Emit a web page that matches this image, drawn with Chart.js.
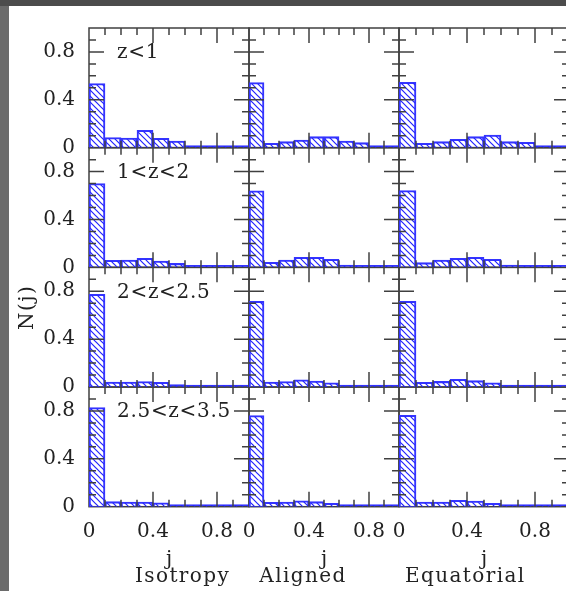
<!DOCTYPE html>
<html>
<head>
<meta charset="utf-8">
<script src="https://cdn.jsdelivr.net/npm/chart.js@4.4.1/dist/chart.umd.min.js"></script>
<style>
  html, body { margin: 0; padding: 0; background: #6b6b6b; overflow: hidden; width: 566px; height: 591px; }
  #topbar { position: absolute; left: 0; top: 0; width: 566px; height: 6px; background: #4c4c4c; }
  #sheet { position: absolute; left: 9px; top: 6px; width: 570px; height: 600px; background: #fff; }
  canvas { position: absolute; left: 0; top: 0; }
</style>
</head>
<body>
<div id="topbar"></div>
<div id="sheet"></div>
<canvas id="col0" width="574" height="591"></canvas>
<canvas id="col1" width="574" height="591"></canvas>
<canvas id="col2" width="574" height="591"></canvas>
<script>
// histogram bins in j (width 0.1)
const binCenters = [0.05, 0.15, 0.25, 0.35, 0.45, 0.55, 0.65, 0.75, 0.85, 0.95];
const majorTicks = [0, 0.4, 0.8];
const minorTicks = [0.1, 0.2, 0.3, 0.5, 0.6, 0.7, 0.9];

const models = ['Isotropy', 'Aligned', 'Equatorial'];
const redshiftBins = ['z<1', '1<z<2', '2<z<2.5', '2.5<z<3.5'];

// N(j), one row per redshift bin
const isotropy = [
  [0.536, 0.084, 0.080, 0.145, 0.078, 0.056, 0.005, 0, 0, 0],
  [0.700, 0.059, 0.061, 0.075, 0.053, 0.033, 0, 0, 0, 0],
  [0.775, 0.042, 0.042, 0.045, 0.039, 0.020, 0, 0, 0, 0],
  [0.828, 0.042, 0.039, 0.039, 0.033, 0.014, 0, 0, 0, 0]
];
const aligned = [
  [0.544, 0.036, 0.050, 0.064, 0.092, 0.092, 0.056, 0.042, 0.014, 0],
  [0.639, 0.042, 0.061, 0.084, 0.084, 0.067, 0.020, 0, 0, 0],
  [0.717, 0.042, 0.045, 0.061, 0.050, 0.036, 0, 0, 0, 0],
  [0.762, 0.036, 0.039, 0.050, 0.042, 0.028, 0, 0, 0, 0]
];
const equatorial = [
  [0.547, 0.036, 0.050, 0.070, 0.092, 0.106, 0.050, 0.045, 0.014, 0],
  [0.642, 0.039, 0.061, 0.075, 0.084, 0.067, 0.020, 0, 0, 0],
  [0.717, 0.039, 0.047, 0.064, 0.053, 0.036, 0, 0, 0, 0],
  [0.764, 0.039, 0.039, 0.053, 0.047, 0.028, 0, 0, 0, 0]
];

const blue = '#3434ff';
const ink = '#404040';
const textColor = '#222';
const serif = 'DejaVu Serif';
const tickFont = {family: serif, size: 20};

// panel edges on the page (px), the last one runs past the window
const colEdges = [89, 249, 399, 569];
const pageW = 574;

function hatch(color) {
  const s = 6;
  const c = document.createElement('canvas');
  c.width = s; c.height = s;
  const g = c.getContext('2d');
  g.strokeStyle = color;
  g.lineWidth = 1.2;
  g.beginPath();
  for (const k of [-s, 0, s]) {
    g.moveTo(k - 1, -1);
    g.lineTo(k + s + 1, s + 1);
  }
  g.stroke();
  return g.createPattern(c, 'repeat');
}
const hatchFill = hatch('#2222ff');

const setTicks = s => { s.ticks = majorTicks.map(v => ({value: v})); };

function panelPlugin(col) {
  return {
    id: 'panels' + col,
    beforeDatasetsDraw(chart) {
      const ctx = chart.ctx, xs = chart.scales.x;
      ctx.save();
      ctx.strokeStyle = ink;
      ctx.lineWidth = 1.5;
      for (let r = 0; r < 4; r++) {
        const ys = chart.scales['y' + r];
        const l = xs.getPixelForValue(0), rt = xs.getPixelForValue(1);
        const t = ys.getPixelForValue(1), b = ys.getPixelForValue(0);
        ctx.strokeRect(l, t, rt - l, b - t);
      }
      ctx.restore();
    },
    afterDatasetsDraw(chart) {
      // inward ticks on all four sides of every panel
      const ctx = chart.ctx, xs = chart.scales.x;
      const marks = minorTicks.map(v => [v, 7]).concat([[0.4, 15], [0.8, 15]]);
      ctx.save();
      ctx.strokeStyle = ink;
      ctx.lineWidth = 1.5;
      ctx.beginPath();
      for (let r = 0; r < 4; r++) {
        const ys = chart.scales['y' + r];
        const l = xs.getPixelForValue(0), rt = xs.getPixelForValue(1);
        const t = ys.getPixelForValue(1), b = ys.getPixelForValue(0);
        marks.forEach(([v, len]) => {
          const px = xs.getPixelForValue(v);
          ctx.moveTo(px, t); ctx.lineTo(px, t + len);
          ctx.moveTo(px, b); ctx.lineTo(px, b - len);
          const py = ys.getPixelForValue(v);
          ctx.moveTo(l, py); ctx.lineTo(l + len, py);
          ctx.moveTo(rt, py); ctx.lineTo(rt - len, py);
        });
      }
      ctx.stroke();
      ctx.restore();
    },
    afterDraw(chart) {
      const ctx = chart.ctx, xs = chart.scales.x;
      ctx.save();
      ctx.fillStyle = textColor;
      ctx.font = '20px "' + serif + '"';
      // model name under the column
      ctx.textAlign = 'center';
      ctx.textBaseline = 'alphabetic';
      ctx.letterSpacing = '1.4px';
      const nameAt = [0.585, 0.36, 0.39];
      ctx.fillText(models[col], xs.getPixelForValue(nameAt[col]), 582);
      if (col === 0) {
        // redshift labels
        ctx.textAlign = 'left';
        ctx.textBaseline = 'middle';
        ctx.letterSpacing = '0.7px';
        redshiftBins.forEach((lab, r) => {
          ctx.fillText(lab, xs.getPixelForValue(0.175), chart.scales['y' + r].getPixelForValue(0.79));
        });
        // y title
        ctx.textAlign = 'center';
        ctx.letterSpacing = '1.5px';
        ctx.translate(chart.chartArea.left - 61, chart.scales.y2.getPixelForValue(0.666));
        ctx.rotate(-Math.PI / 2);
        ctx.fillText('N(j)', 0, 0);
      }
      ctx.restore();
    }
  };
}

[isotropy, aligned, equatorial].forEach((rows, c) => {
  const datasets = rows.map((vals, r) => ({
    type: 'bar',
    label: models[c] + ' ' + redshiftBins[r],
    xAxisID: 'x',
    yAxisID: 'y' + r,
    data: vals.map((v, i) => ({x: binCenters[i], y: v})),
    backgroundColor: hatchFill,
    borderColor: blue,
    borderWidth: 1.4,
    borderSkipped: 'start',
    grouped: false,
    barPercentage: 1,
    categoryPercentage: 1,
    minBarLength: 2
  }));

  const scales = {};
  // the left stack is laid out in reverse order, so the top row goes in last
  [3, 2, 1, 0].forEach(r => {
    scales['y' + r] = {
      type: 'linear', position: 'left', stack: 'rows', stackWeight: 1,
      min: 0, max: 1,
      afterBuildTicks: setTicks,
      afterFit: s => { s.width = c === 0 ? 89 : 0; },
      grid: {display: false, drawTicks: false},
      border: {display: false},
      ticks: {display: c === 0, font: tickFont, color: textColor, padding: 14, autoSkip: false}
    };
  });
  scales.x = {
    type: 'linear', position: 'bottom', offset: false,
    min: 0, max: 1,
    afterBuildTicks: setTicks,
    afterFit: s => { s.height = 65.3; s.paddingLeft = 0; s.paddingRight = 0; },
    grid: {display: false, drawTicks: false, offset: false},
    border: {display: false},
    title: {display: true, text: 'j', font: tickFont, color: textColor, padding: 0},
    ticks: {font: tickFont, color: textColor, padding: 13, maxRotation: 0, autoSkip: false}
  };

  new Chart(document.getElementById('col' + c), {
    type: 'bar',
    data: {datasets},
    options: {
      responsive: false,
      animation: false,
      events: [],
      layout: {autoPadding: false, padding: {
        left: c === 0 ? 0 : colEdges[c],
        top: 28,
        right: pageW - colEdges[c + 1],
        bottom: 19
      }},
      plugins: {legend: {display: false}, tooltip: {enabled: false}},
      scales
    },
    plugins: [panelPlugin(c)]
  });
});
</script>
</body>
</html>
